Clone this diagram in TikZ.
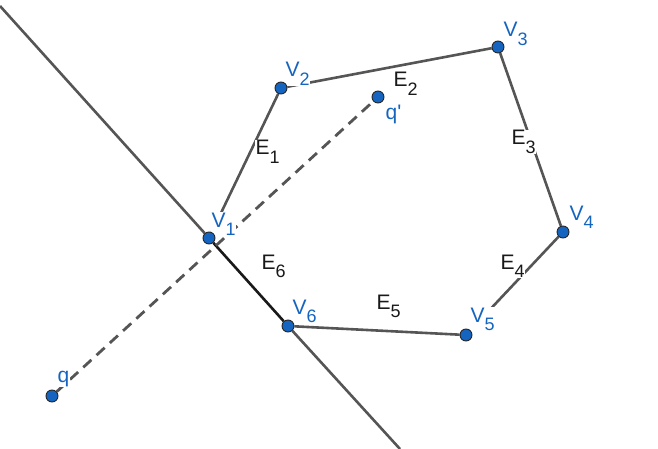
\documentclass[tikz,border=0pt]{standalone}
\usepackage{fontspec}
\setmainfont{Liberation Sans}
\pgfdeclarelayer{bg}
\pgfsetlayers{bg,main}
\definecolor{ggblue}{RGB}{21,101,192}
\definecolor{seggray}{RGB}{85,85,85}
\newcommand{\lbl}[2]{#1\raisebox{-8.5pt}{\fontsize{18}{18}\selectfont #2}}
\tikzset{
  vertex/.style={circle,fill=ggblue,draw=black!85,line width=0.9pt,inner sep=0pt,minimum size=12pt},
  seg/.style={draw=seggray,line width=2.6pt},
  vlbl/.style={anchor=base west,text=ggblue,fill=white,inner sep=0.5pt,font=\fontsize{21}{25}\selectfont},
  elbl/.style={anchor=base west,text=black!90,fill=white,inner sep=0.5pt,font=\fontsize{21}{25}\selectfont},
}
\begin{document}
\begin{tikzpicture}[x=1pt,y=-1pt]
\useasboundingbox (0,0) rectangle (658,449);
\node[vertex](V1) at (209,238){};
\node[vertex](V2) at (281,88){};
\node[vertex](V3) at (498,47){};
\node[vertex](V4) at (563,232){};
\node[vertex](V5) at (466,335){};
\node[vertex](V6) at (288,326){};
\node[vertex](q) at (52,396){};
\node[vertex](qp) at (378,97){};
\coordinate (Ltop) at (0,6);
\coordinate (Lbot) at (400,449);
\begin{pgfonlayer}{bg}
\draw[seg](Ltop)--(V1);
\draw[seg](V6)--(Lbot);
\draw[seg](V1)--(V2)--(V3)--(V4)--(V5)--(V6);
\draw[seg,draw=black!90](V1)--(V6);
\draw[seg,line width=2.8pt,dash pattern=on 11pt off 7pt](q)--(qp);
\node[vlbl](lV1) at (211,227){\lbl{V}{1}};
\node[vlbl](lV2) at (285,77){\lbl{V}{2}};
\node[vlbl](lV3) at (503,37){\lbl{V}{3}};
\node[vlbl](lV4) at (569,220){\lbl{V}{4}};
\node[vlbl](lV5) at (470,322){\lbl{V}{5}};
\node[vlbl](lV6) at (292,314){\lbl{V}{6}};
\node[elbl](lE1) at (255,155){\lbl{E}{1}};
\node[elbl](lE2) at (393,87){\lbl{E}{2}};
\node[elbl](lE3) at (511,145){\lbl{E}{3}};
\node[elbl](lE4) at (500,269){\lbl{E}{4}};
\node[elbl](lE5) at (376,309){\lbl{E}{5}};
\node[elbl](lE6) at (261,269){\lbl{E}{6}};
\node[vlbl](lq) at (57,382){q};
\node[vlbl](lqp) at (385,120){q\textquotesingle};
\end{pgfonlayer}
\end{tikzpicture}
\end{document}
